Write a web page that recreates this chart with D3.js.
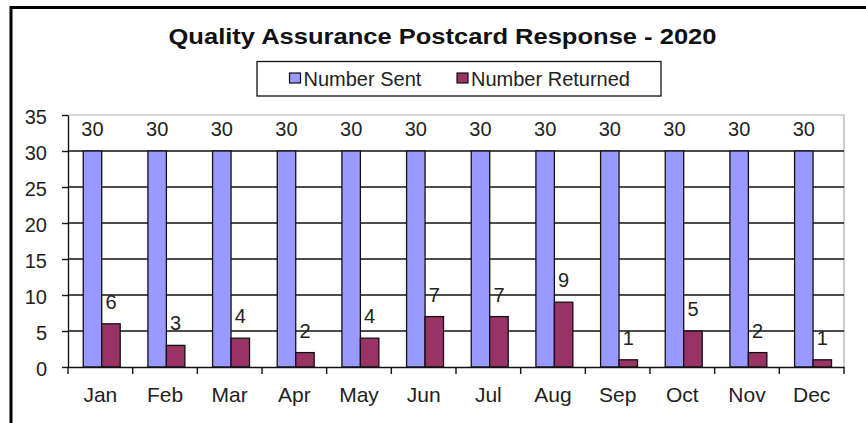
<!DOCTYPE html>
<html>
<head>
<meta charset="utf-8">
<script src="https://cdn.jsdelivr.net/npm/d3@7"></script>
<style>
  body { margin: 0; background: #fff; }
  svg { display: block; font-family: Arial, "Liberation Sans", sans-serif; }
</style>
</head>
<body>
<div id="chart"></div>
<script>
// chart data
var months = ["Jan", "Feb", "Mar", "Apr", "May", "Jun", "Jul", "Aug", "Sep", "Oct", "Nov", "Dec"];
var sent = [30, 30, 30, 30, 30, 30, 30, 30, 30, 30, 30, 30];
var returned = [6, 3, 4, 2, 4, 7, 7, 9, 1, 5, 2, 1];
var seriesNames = ["Number Sent", "Number Returned"];
var seriesColors = ["#9999ff", "#993366"];
var yTicks = [0, 5, 10, 15, 20, 25, 30, 35];
var title = "Quality Assurance Postcard Response - 2020";

var W = 866, H = 423;
// plot area edges (window.top is reserved, so no plain "top")
var pLeft = 68, pRight = 844, pTop = 115, pBottom = 367;
var txt = "#222";

var svg = d3.select("#chart").append("svg")
  .attr("width", W).attr("height", H);

// outer frame (right / bottom edges fall outside the picture)
svg.append("path")
  .attr("d", "M11," + H + "V7.5H" + W)
  .attr("fill", "none").attr("stroke", "#000").attr("stroke-width", 3);

// title
svg.append("text").text(title)
  .attr("x", 442.5).attr("y", 44)
  .attr("text-anchor", "middle")
  .attr("font-size", 22).attr("font-weight", "bold")
  .attr("textLength", 548).attr("lengthAdjust", "spacingAndGlyphs")
  .attr("fill", "#111");

// scales
var x = d3.scaleBand().domain(months).range([pLeft, pRight]).padding(0);
var xs = d3.scaleBand().domain(seriesNames).range([0, x.bandwidth()])
  .paddingOuter(0.75).align(0.55);
var y = d3.scaleLinear().domain([0, 35]).range([pBottom, pTop]);

// plot area border (grey top and right)
svg.append("path")
  .attr("d", "M" + pLeft + "," + pTop + "H" + pRight + "V" + pBottom)
  .attr("fill", "none").attr("stroke", "#aaa").attr("stroke-width", 1.2);

// gridlines
svg.append("g").selectAll("line")
  .data(yTicks.filter(function(d) { return d > 0 && d < 35; }))
  .enter().append("line")
  .attr("x1", pLeft).attr("x2", pRight)
  .attr("y1", function(d) { return y(d); }).attr("y2", function(d) { return y(d); })
  .attr("stroke", "#111").attr("stroke-width", 1.4);

// y axis
var yAxis = svg.append("g").attr("transform", "translate(" + pLeft + ",0)")
  .call(d3.axisLeft(y).tickValues(yTicks).tickSize(6).tickPadding(15).tickSizeOuter(0));
yAxis.select(".domain").attr("stroke", "#111").attr("stroke-width", 1.4);
yAxis.selectAll(".tick line").attr("stroke", "#111").attr("stroke-width", 1.4);
yAxis.selectAll(".tick text").attr("font-size", 20).attr("fill", txt)
  .attr("font-family", "Arial, 'Liberation Sans', sans-serif").attr("dy", "0.42em");

// bars
var groups = svg.append("g").selectAll("g")
  .data(months).enter().append("g")
  .attr("transform", function(d) { return "translate(" + x(d) + ",0)"; });

[sent, returned].forEach(function(vals, si) {
  groups.append("rect")
    .attr("x", xs(seriesNames[si]))
    .attr("y", function(d, i) { return y(vals[i]); })
    .attr("width", xs.bandwidth())
    .attr("height", function(d, i) { return y(0) - y(vals[i]); })
    .attr("fill", seriesColors[si])
    .attr("stroke", "#111").attr("stroke-width", 1.3);
  groups.append("text")
    .text(function(d, i) { return vals[i]; })
    .attr("x", xs(seriesNames[si]) + xs.bandwidth() / 2)
    .attr("y", function(d, i) { return y(vals[i]) - 15; })
    .attr("text-anchor", "middle")
    .attr("font-size", 20).attr("fill", txt);
});

// x axis
var xAxis = svg.append("g").attr("transform", "translate(0," + pBottom + ")")
  .call(d3.axisBottom(x).tickSize(0).tickPadding(20).tickSizeOuter(0));
xAxis.select(".domain").attr("stroke", "#111").attr("stroke-width", 1.4);
xAxis.selectAll(".tick text").attr("font-size", 21).attr("fill", txt)
  .attr("font-family", "Arial, 'Liberation Sans', sans-serif");
// category boundary ticks
xAxis.append("g").selectAll("line")
  .data(months.concat([null]))
  .enter().append("line")
  .attr("x1", function(d) { return d ? x(d) : pRight; })
  .attr("x2", function(d) { return d ? x(d) : pRight; })
  .attr("y1", 0).attr("y2", 7)
  .attr("stroke", "#111").attr("stroke-width", 1.4);

// legend
var lg = svg.append("g");
lg.append("rect").attr("x", 257).attr("y", 61.5).attr("width", 404).attr("height", 34.5)
  .attr("fill", "#fff").attr("stroke", "#111").attr("stroke-width", 1.3);
var legendX = [289.5, 457];
seriesNames.forEach(function(name, i) {
  lg.append("rect").attr("x", legendX[i]).attr("y", 73).attr("width", 11).attr("height", 10)
    .attr("fill", seriesColors[i]).attr("stroke", "#111").attr("stroke-width", 1.2);
  lg.append("text").text(name)
    .attr("x", legendX[i] + 14).attr("y", 86)
    .attr("font-size", 20).attr("fill", txt);
});
</script>
</body>
</html>
